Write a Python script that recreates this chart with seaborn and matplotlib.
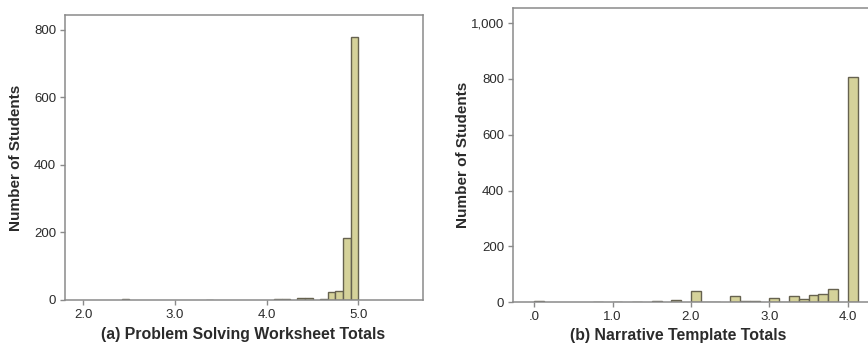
import numpy as np
import pandas as pd
import matplotlib
matplotlib.use("Agg")
import matplotlib.pyplot as plt
import seaborn as sns
from matplotlib.ticker import FuncFormatter

# ---- data ----
ps_scores = [2.458, 3.375, 4.125, 4.208, 4.375, 4.458, 4.625, 4.708, 4.792, 4.875, 4.958]
ps_counts = [4, 1, 3, 2, 5, 5, 3, 23, 28, 184, 778]
ps_ticks = [2.0, 3.0, 4.0, 5.0]
ps_ticklabels = ["2.0", "3.0", "4.0", "5.0"]

nt_scores = [0.0625, 0.8125, 1.0625, 1.3125, 1.5625, 1.8125, 2.0625, 2.1875, 2.3125,
             2.5625, 2.6875, 2.8125, 3.0625, 3.1875, 3.3125, 3.4375, 3.5625, 3.6875,
             3.8125, 4.0625]
nt_counts = [4, 1, 1, 2, 3, 8, 42, 2, 1, 23, 5, 5, 14, 2, 23, 12, 27, 30, 49, 808]
nt_ticks = [0.0, 1.0, 2.0, 3.0, 4.0]
nt_ticklabels = [".0", "1.0", "2.0", "3.0", "4.0"]

ylabel = "Number of Students"
xlabel_a = "(a) Problem Solving Worksheet Totals"
xlabel_b = "(b) Narrative Template Totals"

sns.set_theme(style="white")
plt.rcParams['font.family'] = ['Liberation Sans', 'DejaVu Sans']

FILL = "#d5d29a"
EDGE = "#66624f"
FRAME = "#8a8a8a"
TXT = "#2b2b2b"

fig = plt.figure(figsize=(8.68, 3.51), dpi=100)
ax1 = fig.add_axes([65/868, 51/351, 358/868, 285/351])
ax2 = fig.add_axes([513/868, 48.7/351, 370/868, 294/351])

df1 = pd.DataFrame({"score": ps_scores, "n": ps_counts})
df2 = pd.DataFrame({"score": nt_scores, "n": nt_counts})

bins1 = [float(b) for b in np.linspace(5.0 - 40/12, 5.0, 41)]
bins2 = [float(b) for b in np.arange(0, 4.126, 0.125)]

sns.histplot(data=df1, x="score", weights="n", bins=bins1, ax=ax1,
             color=FILL, edgecolor=EDGE, linewidth=1.0, alpha=1)
sns.histplot(data=df2, x="score", weights="n", bins=bins2, ax=ax2,
             color=FILL, edgecolor=EDGE, linewidth=1.0, alpha=1)

for ax in (ax1, ax2):
    for p in ax.patches:
        if p.get_height() == 0:
            p.set_visible(False)

ax1.set_xlim(1.8, 5.705)
ax1.set_ylim(0, 844)
ax1.set_yticks([0, 200, 400, 600, 800])
ax1.set_xticks(ps_ticks)
ax1.set_xticklabels(ps_ticklabels)

ax2.set_xlim(-0.27, 4.45)
ax2.set_ylim(0, 1053)
ax2.set_yticks([0, 200, 400, 600, 800, 1000])
ax2.yaxis.set_major_formatter(FuncFormatter(lambda v, p: f"{int(v):,}"))
ax2.set_xticks(nt_ticks)
ax2.set_xticklabels(nt_ticklabels)

for ax, xl in ((ax1, xlabel_a), (ax2, xlabel_b)):
    for s in ax.spines.values():
        s.set_color(FRAME)
        s.set_linewidth(1.1)
    ax.tick_params(axis="both", direction="out", length=3.8, width=1, color=FRAME,
                   labelsize=9.5, labelcolor=TXT, pad=2.5, bottom=True, left=True)
    ax.set_xlabel(xl, fontsize=11.4, fontweight="bold", color=TXT)
    ax.set_ylabel(ylabel, fontsize=11, fontweight="bold", color=TXT)
    ax.yaxis.set_label_coords(-0.117, 0.5)
    ax.grid(False)

ax1.xaxis.set_label_coords(0.497, -0.094)
ax2.xaxis.set_label_coords(0.446, -0.086)

fig.savefig("out.png", dpi=100)
